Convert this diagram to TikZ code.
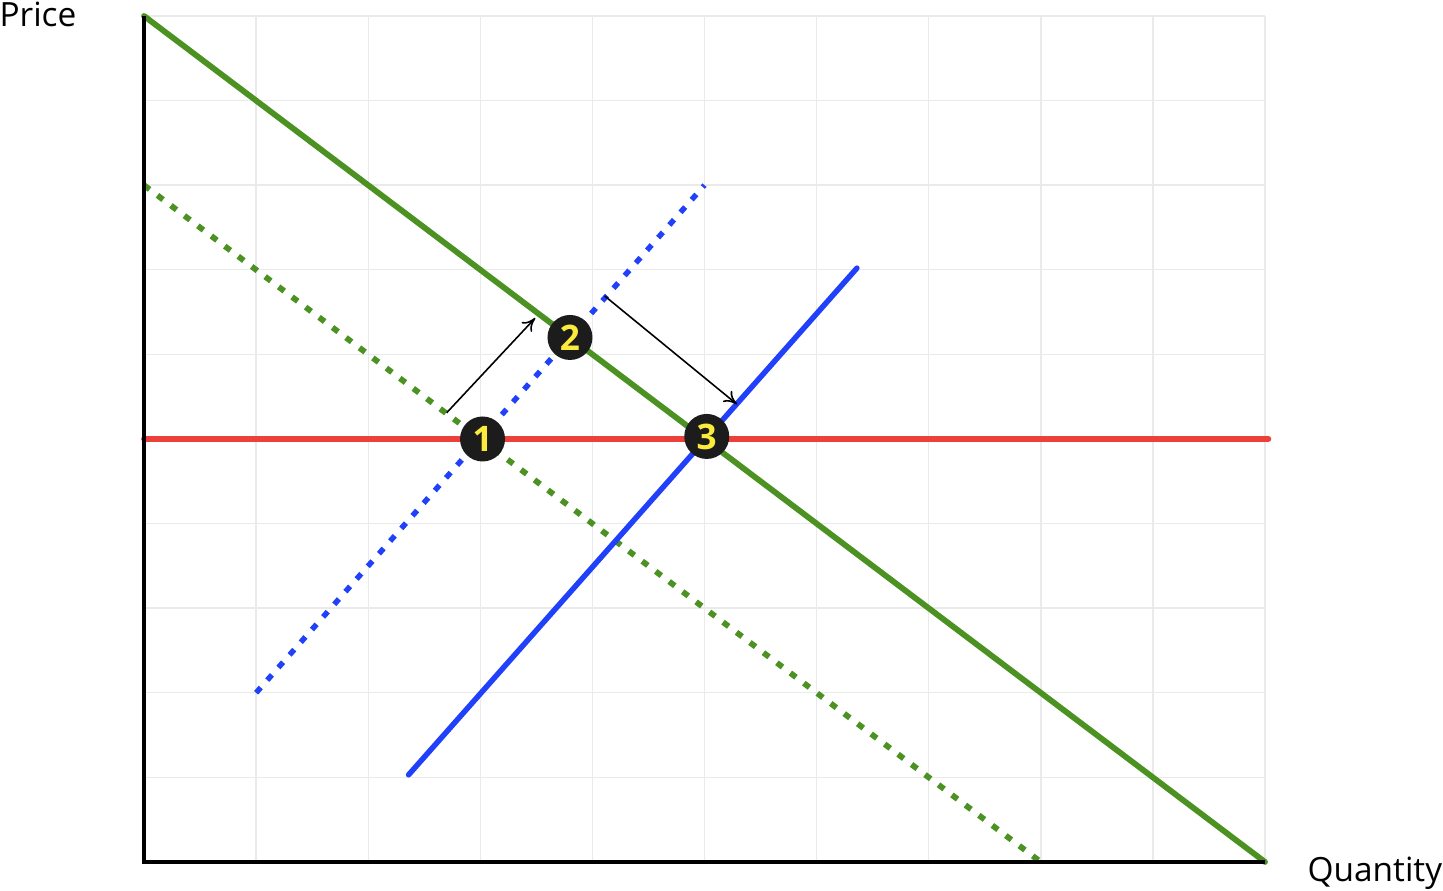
\documentclass[tikz,border=0pt]{standalone}
\usepackage{fontspec}
\setmainfont{Open Sans}
\usepackage{tikz}
\usetikzlibrary{arrows.meta,positioning}
\definecolor{curvegreen}{RGB}{76,146,34}
\definecolor{curveblue}{RGB}{32,64,250}
\definecolor{curvered}{RGB}{236,64,58}
\definecolor{gridgray}{RGB}{234,234,234}
\definecolor{dotblack}{RGB}{28,28,28}
\definecolor{numyellow}{RGB}{250,235,60}
\tikzset{
  gridline/.style={gridgray, line width=0.8pt},
  axisline/.style={black, line width=2.4pt},
  demand/.style={curvegreen, line width=3.3pt},
  supply/.style={curveblue, line width=3.1pt},
  priceline/.style={curvered, line width=3.3pt},
  shifted/.style={dash pattern=on 4pt off 5.6pt},
  point/.style={circle, fill=dotblack, minimum size=0.9cm, inner sep=0pt,
                text=numyellow, font=\fontsize{20}{22}\selectfont\bfseries},
  axislabel/.style={font=\fontsize{19}{22}\selectfont},
  shiftarrow/.style={-{To[length=2.6mm,width=2.8mm]}, black, line width=0.9pt},
}
\begin{document}
\begin{tikzpicture}[x=2.242cm, y=1.692cm]
\useasboundingbox (-1.2846,-0.3428) rectangle (11.5878,10.1891);
\foreach \i in {1,...,10}
  \draw[gridline] (\i,0) -- (\i,10);
\foreach \j in {1,...,10}
  \draw[gridline] (0,\j) -- (10,\j);
\draw[priceline, line cap=round] (0,5) -- (10.03,5);
\draw[demand, shifted] (0,8) -- (8,0);
\draw[supply, shifted] (1,2) -- (5,8);
\draw[demand, line cap=round] (0,10) -- (10,0);
\draw[supply, line cap=round] (2.36,1.03) -- (6.36,7.02);
\draw[axisline] (0,10) -- (0,0) -- (10,0);
\node[axislabel] (price) at (-0.946,10.02) {Price};
\node[axislabel] (quantity) at (10.98,-0.13) {Quantity};
\coordinate (upfrom) at (2.70,5.31);
\coordinate (upto) at (3.49,6.43);
\coordinate (downfrom) at (4.11,6.69);
\coordinate (downto) at (5.29,5.41);
\draw[shiftarrow] (upfrom) -- (upto);
\draw[shiftarrow] (downfrom) -- (downto);
\node[point] (p1) at (3.02,5) {1};
\node[point] (p2) at (3.8,6.2) {2};
\node[point] (p3) at (5.02,5.03) {3};
\end{tikzpicture}
\end{document}
